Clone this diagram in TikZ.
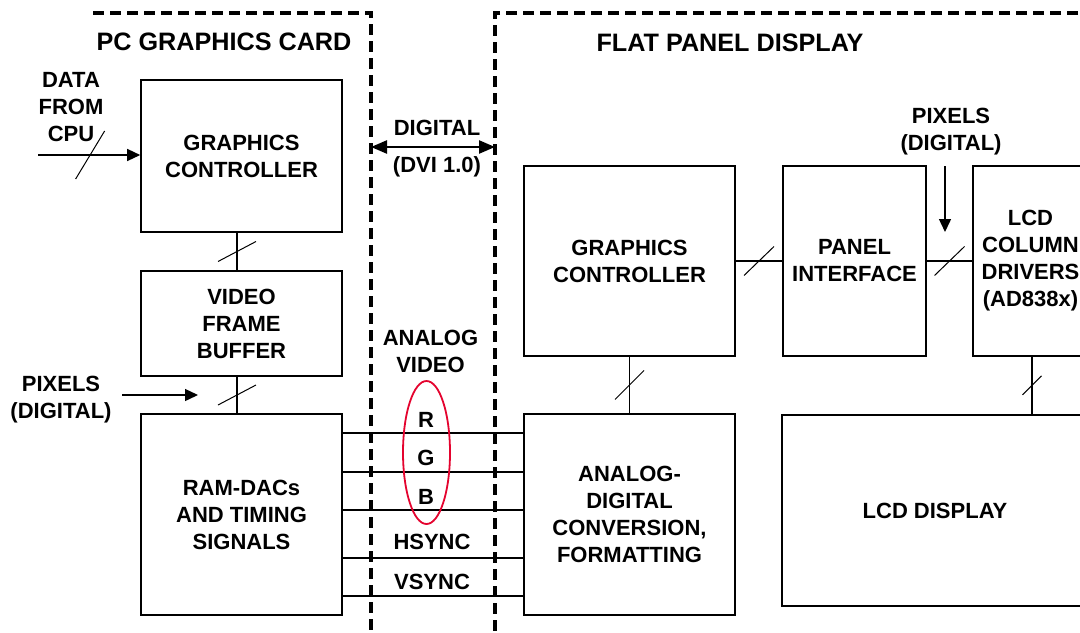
\documentclass[tikz,border=0pt]{standalone}
\usepackage{fontspec}
\setmainfont{Liberation Sans}
\usetikzlibrary{arrows.meta}
\definecolor{ink}{HTML}{000000}
\definecolor{rgbred}{HTML}{E4032E}
\newcommand{\lblfont}{\fontsize{11}{13.5}\selectfont\bfseries}
\newcommand{\ttlfont}{\fontsize{12.6}{15}\selectfont\bfseries}
\newcommand{\bustick}[3]{\draw[tick] ([shift={(-#2,#3)}]#1) -- ([shift={(#2,-#3)}]#1);}
\tikzset{
  blk/.style={draw=ink,line width=0.8pt,inner sep=0pt,align=center,font=\lblfont},
  lbl/.style={inner sep=0pt,align=center,font=\lblfont},
  ttl/.style={inner sep=0pt,font=\ttlfont},
  ln/.style={ink,line width=0.7pt},
  tick/.style={ink,line width=0.5pt},
  arr/.style={-{Triangle[length=6.5pt,width=6pt]},ink,line width=0.7pt},
  darr/.style={{Triangle[length=8pt,width=6.5pt]}-{Triangle[length=8pt,width=6.5pt]},ink,line width=1.2pt},
  bound/.style={ink,line width=1.6pt,dash pattern=on 5.5pt off 3pt},
  rgbring/.style={rgbred,line width=0.9pt},
}

\begin{document}
\begin{tikzpicture}[x=0.5pt,y=-0.5pt]
  \useasboundingbox (0,0) rectangle (1080,632);
  \clip (0,0) rectangle (1080,632);

  % card and panel borders
  \draw[bound] (93,13) -- (371,13) -- (371,645);
  \draw[bound] (1095,13) -- (495,13) -- (495,645);
  \node[ttl] (card) at (224,42) {PC GRAPHICS CARD};
  \node[ttl] (panel) at (730,43) {FLAT PANEL DISPLAY};

  % graphics card
  \node[blk,minimum width=100.5pt,minimum height=76pt] (gcl) at (241.5,156) {GRAPHICS\\CONTROLLER};
  \node[blk,minimum width=100.5pt,minimum height=52.5pt] (vfb) at (241.5,323.5) {VIDEO\\FRAME\\BUFFER};
  \node[blk,minimum width=100.5pt,minimum height=100.5pt] (ram) at (241.5,514.5) {RAM-DACs\\AND TIMING\\SIGNALS};

  % flat panel
  \node[blk,minimum width=105.5pt,minimum height=95pt] (gcr) at (629.5,261) {GRAPHICS\\CONTROLLER};
  \node[blk,minimum width=71.5pt,minimum height=95pt] (pif) at (854.5,261) {PANEL\\INTERFACE};
  \node[blk,minimum width=57.5pt,minimum height=95pt] (lcdc) at (1030.5,261) {LCD\\COLUMN\\DRIVERS\\(AD838x)};
  \node[blk,minimum width=105.5pt,minimum height=100.5pt] (adc) at (629.5,514.5) {ANALOG-\\DIGITAL\\CONVERSION,\\FORMATTING};
  \node[blk,line width=1.2pt,minimum width=153pt,minimum height=95.5pt] (lcdd) at (935,510.5) {LCD DISPLAY};

  % inputs
  \node[lbl] (cpu) at (71,107) {DATA\\FROM\\CPU};
  \coordinate (cpuin) at (38,155);
  \draw[arr] (cpuin) -- (cpuin -| gcl.west) coordinate[pos=0.51] (t0);
  \bustick{t0}{14.5}{24}
  \node[lbl] (pixl) at (61,399.5) {PIXELS\\(DIGITAL)};
  \coordinate (pixla) at (122,395);
  \coordinate (pixlb) at (198,395);
  \draw[arr] (pixla) -- (pixlb);
  \node[lbl] (pixr) at (951,132) {PIXELS\\(DIGITAL)};
  \coordinate (pixra) at (945,166);
  \coordinate (pixrb) at (945,232);
  \draw[arr] (pixra) -- (pixrb);

  % buses
  \draw[ln] ([xshift=-2.25pt]gcl.south) -- ([xshift=-2.25pt]vfb.north) coordinate[midway] (t1);
  \bustick{t1}{19}{10}
  \draw[ln] ([xshift=-2.25pt]vfb.south) -- ([xshift=-2.25pt]ram.north) coordinate[midway] (t2);
  \bustick{t2}{19}{10}
  \draw[ln] (gcr.south) -- (adc.north) coordinate[midway] (t3);
  \bustick{t3}{14.5}{14.5}
  \draw[ln] ([xshift=0.75pt]lcdc.south) -- ([xshift=0.75pt]lcdc.south |- lcdd.north) coordinate[midway] (t4);
  \bustick{t4}{9.5}{9.5}
  \draw[ln] (gcr.east) -- (pif.west) coordinate[midway] (t5);
  \bustick{t5}{15}{14.5}
  \draw[ln] (pif.east) -- (lcdc.west) coordinate[midway] (t6);
  \bustick{t6}{15}{14.5}

  % DVI link
  \coordinate (dl) at (371,147);
  \coordinate (dr) at (495,147);
  \draw[darr] (dl) -- (dr);
  \node[lbl] (dig) at (437,128) {DIGITAL};
  \node[lbl] (dvi) at (437,167) {(DVI 1.0)};

  % analog video lines
  \foreach \y in {433,472,510,558,596}
    \draw[ln] (ram.east |- 0,\y) -- (adc.west |- 0,\y);
  \node[lbl] (avid) at (430.5,351.5) {ANALOG\\VIDEO};
  \node[lbl] (sr) at (426,420) {R};
  \node[lbl] (sg) at (426,458) {G};
  \node[lbl] (sb) at (426,497) {B};
  \node[lbl] (hs) at (432,542) {HSYNC};
  \node[lbl] (vs) at (432,582) {VSYNC};
  \draw[rgbring] (426.5,452.5) ellipse [x radius=23.5, y radius=71.5];
\end{tikzpicture}
\end{document}
